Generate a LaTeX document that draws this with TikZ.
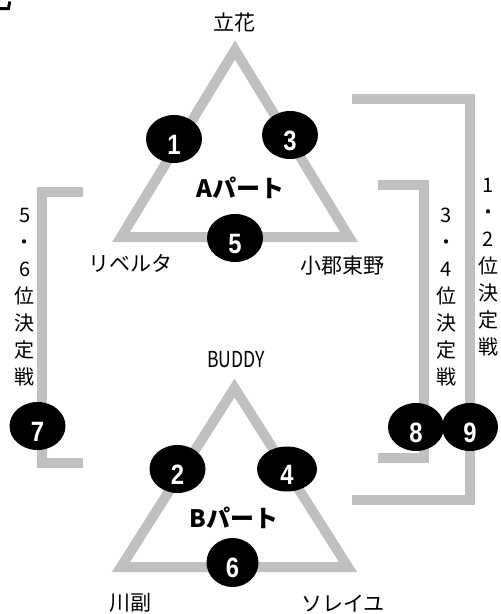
\documentclass[tikz,border=0pt]{standalone}
\usepackage{fontspec}
\setmainfont{Noto Sans CJK JP}
\newfontfamily\numfont{Liberation Sans}
\usetikzlibrary{shapes.geometric}
\definecolor{linegray}{RGB}{192,192,192}
\newcommand{\numtxt}[1]{\scalebox{0.85}[1]{#1}}
\begin{document}
\begin{tikzpicture}[x=1pt,y=-1pt,
  bar/.style={draw=linegray, line width=10pt},
  ball/.style={ellipse, fill=black, inner sep=0pt, minimum width=56pt, minimum height=48pt,
    text=white, text height=30pt, text depth=0pt,
    font=\numfont\bfseries\fontsize{28}{28}\selectfont},
  lbl/.style={inner sep=0pt, font=\fontsize{21}{21}\selectfont},
  latin/.style={inner sep=0pt, font=\fontsize{22}{22}\selectfont},
  part/.style={inner sep=0pt, font=\bfseries\fontsize{24}{24}\selectfont},
  vch/.style={inner sep=0pt, anchor=base, font=\fontsize{20}{20}\selectfont},
]
\useasboundingbox (0,0) rectangle (501,614);

% corner mark
\coordinate (m1) at (0,8.5);
\coordinate (m2) at (8.5,8.5);
\coordinate (m3) at (9.7,1.5);
\draw[line width=3pt] (m1) -- (m2) -- (m3);

% triangles
\coordinate (At) at (235,50);
\coordinate (Al) at (121,237);
\coordinate (Ar) at (349,237);
\draw[bar] (At) -- (Al) -- (Ar) -- cycle;
\coordinate (Bt) at (234.5,388);
\coordinate (Bl) at (121,567);
\coordinate (Br) at (348,567);
\draw[bar] (Bt) -- (Bl) -- (Br) -- cycle;

% brackets
\coordinate (p1) at (83,192);
\coordinate (p2) at (42,192);
\coordinate (p3) at (42,462.5);
\coordinate (p4) at (83,462.5);
\draw[bar] (p1) -- (p2) -- (p3) -- (p4);
\coordinate (q1) at (378,185);
\coordinate (q2) at (424,185);
\coordinate (q3) at (424,458);
\coordinate (q4) at (378,458);
\draw[bar] (q1) -- (q2) -- (q3) -- (q4);
\coordinate (r1) at (352,99);
\coordinate (r2) at (469.5,99);
\coordinate (r3) at (469.5,500);
\coordinate (r4) at (352,500);
\draw[bar] (r1) -- (r2) -- (r3) -- (r4);

% match balls
\node[ball] (e1) at (174,139) {\numtxt{1}};
\node[ball] (e3) at (290,135) {\numtxt{3}};
\node[ball] (e5) at (235,238) {\numtxt{5}};
\node[ball] (e2) at (177.5,469) {\numtxt{2}};
\node[ball, minimum width=60pt, minimum height=45pt] (e4) at (287,469) {\numtxt{4}};
\node[ball, minimum width=52pt, minimum height=49pt] (e6) at (232.5,562.5) {\numtxt{6}};
\node[ball] (e7) at (37.5,426) {\numtxt{7}};
\node[ball] (e8) at (416,427) {\numtxt{8}};
\node[ball] (e9) at (470,427) {\numtxt{9}};

% team labels
\node[lbl] (tachibana) at (234,22.5) {立花};
\node[lbl] (riberuta) at (130.5,263.5) {リベルタ};
\node[lbl] (ogori) at (342.5,266) {小郡東野};
\node[latin] (buddy) at (236,360) {\scalebox{0.8}[1]{BUDDY}};
\node[lbl] (kawazoe) at (130.5,603) {川副};
\node[lbl] (soreiyu) at (343,603.5) {ソレイユ};
\node[part] (apart) at (240.5,188) {Aパート};
\node[part] (bpart) at (234,518) {Bパート};

% vertical captions
\foreach \c [count=\i from 0] in {5,・,6,位,決,定,戦}
  \node[vch] (L\i) at (25,222+27*\i) {\c};
\foreach \c [count=\i from 0] in {3,・,4,位,決,定,戦}
  \node[vch] (M\i) at (446,222+27*\i) {\c};
\foreach \c [count=\i from 0] in {1,・,2,位,決,定,戦}
  \node[vch] (R\i) at (488.5,192+27*\i) {\c};
\end{tikzpicture}
\end{document}
